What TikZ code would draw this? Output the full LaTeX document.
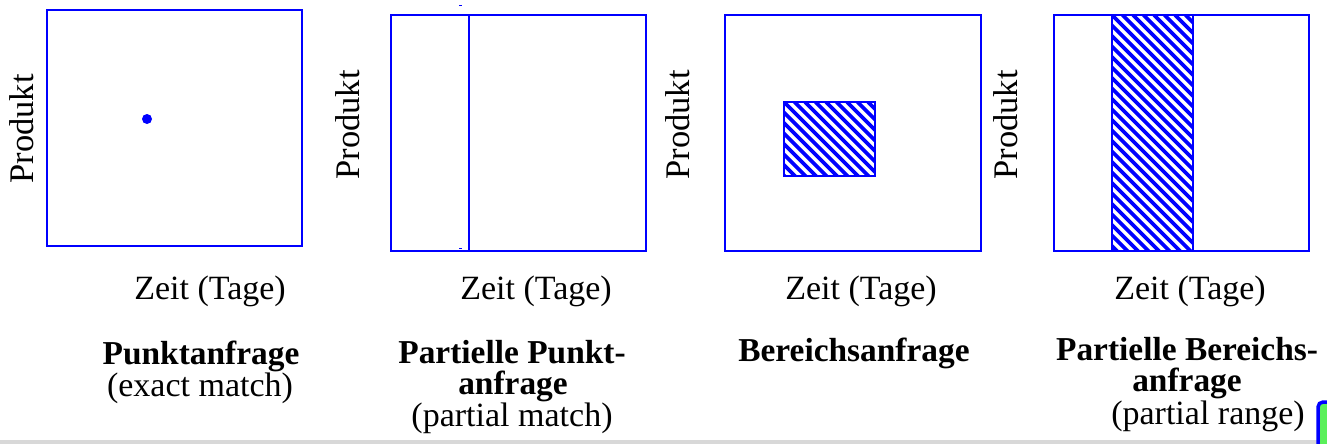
\documentclass[tikz,border=0pt]{standalone}
\usepackage{fontspec}
\setmainfont{Liberation Serif}
\begin{document}
\begin{tikzpicture}[x=1pt,y=-1pt,
  frame/.style={draw=qblue,line width=2.4pt},
  hatchline/.style={draw=qblue,line width=3.6pt},
  lbl/.style={font=\fontsize{34}{36}\selectfont,inner sep=0pt,anchor=base,
    text height=21pt,text depth=6pt},
  title/.style={lbl,font=\fontsize{33.4}{36}\selectfont\bfseries},
  axis/.style={font=\fontsize{34.5}{36}\selectfont,inner sep=0pt,rotate=90}]
\definecolor{qblue}{RGB}{0,0,255}
\definecolor{qgreen}{RGB}{90,240,90}
\definecolor{qgrey}{RGB}{216,216,216}
\useasboundingbox (0,0) rectangle (1327,444);

% bottom strip
\fill[qgrey] (0,440) rectangle (1327,444);
% corner widget
\draw[draw=qblue,fill=qgreen,line width=3.5pt,rounded corners=5pt] (1318,402) rectangle (1340,460);

% --- panel 1: point query
\draw[frame] (47,10) rectangle (302,246);
\fill[qblue] (147,119) circle (5);
\node[axis] (p1y) at (22,129) {Produkt};
\node[lbl] (p1x) at (210,299) {Zeit (Tage)};
\node[title] (p1t) at (201,364) {Punktanfrage};
\node[lbl] (p1s) at (200,396) {(exact match)};

% --- panel 2: partial point query
\draw[frame] (391,15) rectangle (646,251);
\draw[frame] (469,15) -- (469,251);
\draw[qblue,line width=1pt] (459,5.5) -- (462,5.5);
\draw[qblue,line width=1pt] (459,248) -- (462,248);
\node[axis] (p2y) at (348,125) {Produkt};
\node[lbl] (p2x) at (536,299) {Zeit (Tage)};
\node[title] (p2t) at (512,363) {Partielle Punkt-};
\node[title] (p2u) at (513,394) {anfrage};
\node[lbl] (p2s) at (512,426) {(partial match)};

% --- panel 3: range query
\draw[frame] (725,15) rectangle (981,251);
\begin{scope}
  \clip (784,102) rectangle (875,176);
  \foreach \k in {-10,...,10} \draw[hatchline] (784+\k*10.5,102) -- ++(100,100);
\end{scope}
\draw[qblue,line width=1.6pt] (784,102) rectangle (875,176);
\node[axis] (p3y) at (678,125) {Produkt};
\node[lbl] (p3x) at (861,299) {Zeit (Tage)};
\node[title] (p3t) at (854,361) {Bereichsanfrage};

% --- panel 4: partial range query
\begin{scope}
  \clip (1112,15) rectangle (1193,251);
  \foreach \k in {-25,...,10} \draw[hatchline] (1112+\k*10.5,15) -- ++(260,260);
\end{scope}
\draw[qblue,line width=1.6pt] (1112,15) rectangle (1193,251);
\draw[frame] (1054,15) rectangle (1309,251);
\node[axis] (p4y) at (1006,125) {Produkt};
\node[lbl] (p4x) at (1190,299) {Zeit (Tage)};
\node[title] (p4t) at (1187,360) {Partielle Bereichs-};
\node[title] (p4u) at (1187,391) {anfrage};
\node[lbl] (p4s) at (1208,424) {(partial range)};
\end{tikzpicture}
\end{document}
